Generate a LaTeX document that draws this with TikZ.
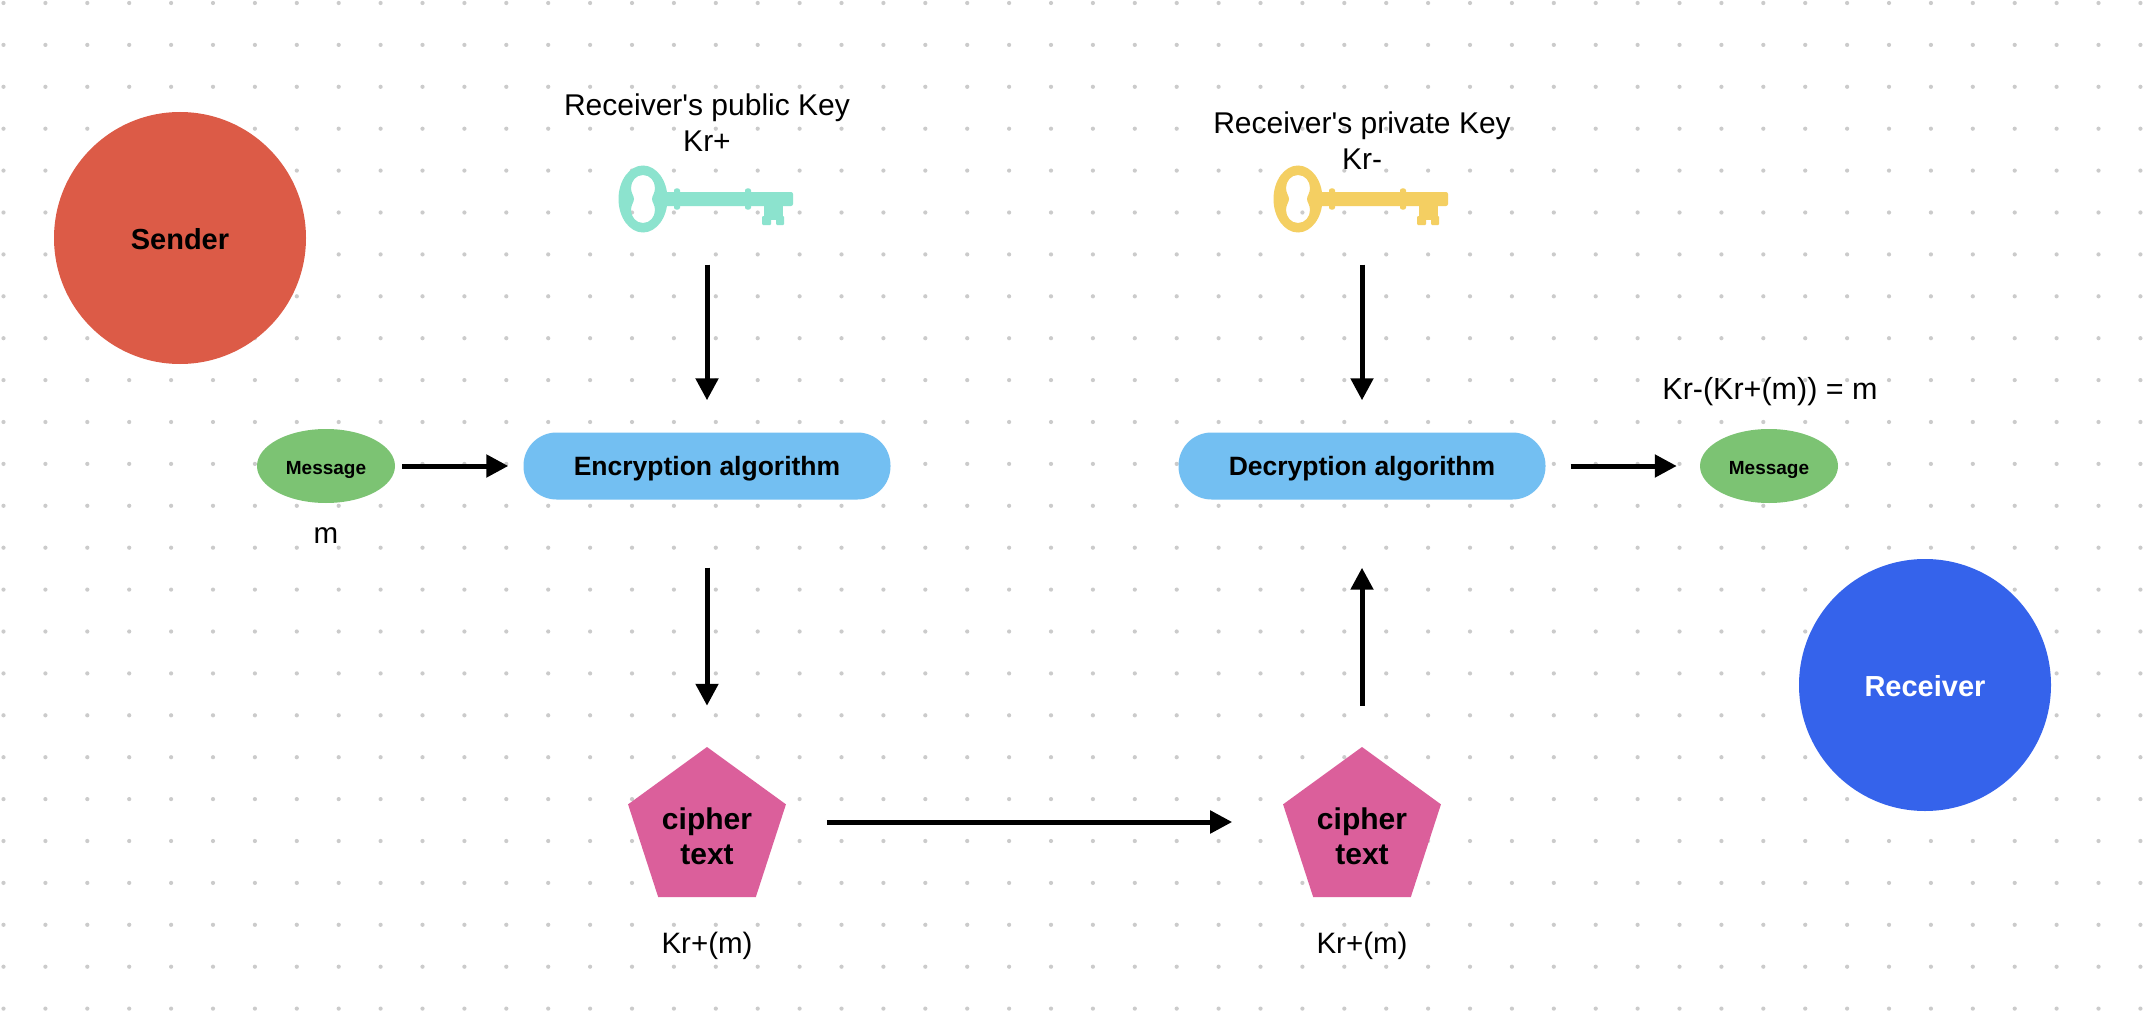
\documentclass[tikz,border=0pt]{standalone}
\usepackage{fontspec}
\setmainfont{Liberation Sans}
\usetikzlibrary{arrows.meta,shapes.geometric}
\definecolor{senderred}{HTML}{DC5B47}
\definecolor{receiverblue}{HTML}{3563EB}
\definecolor{algoblue}{HTML}{73BFF2}
\definecolor{msggreen}{HTML}{7CC373}
\definecolor{cipherpink}{HTML}{DB5F9B}
\definecolor{keyteal}{HTML}{8CE3CE}
\definecolor{keyyellow}{HTML}{F4CF62}
\definecolor{griddot}{HTML}{CBCBCB}
\tikzset{
  party/.style={circle,minimum size=252pt,inner sep=0pt,text height=22.5pt,text depth=0pt,font=\fontsize{29}{35}\selectfont\bfseries},
  algo/.style={rectangle,rounded corners=33pt,fill=algoblue,minimum width=367pt,minimum height=67pt,inner sep=0pt,text height=24pt,text depth=6pt,font=\fontsize{26.5}{33}\selectfont\bfseries},
  msg/.style={ellipse,fill=msggreen,minimum width=138pt,minimum height=74pt,inner sep=0pt,text height=17.5pt,text depth=0pt,font=\fontsize{19}{22}\selectfont\bfseries},
  cipher/.style={regular polygon,regular polygon sides=5,fill=cipherpink,minimum size=166pt,inner sep=0pt},
  ciphertxt/.style={align=center,font=\fontsize{30}{35}\selectfont\bfseries},
  lbl/.style={align=center,font=\fontsize{29.5}{36}\selectfont},
  keybox/.style={minimum width=175pt,minimum height=67pt,inner sep=0pt},
  flow/.style={-{Triangle[length=22pt,width=22pt]},line width=5pt,black},
  pics/keyicon/.style={code={
    \fill[#1,even odd rule] (0,0) ellipse [x radius=24.5pt,y radius=33.5pt]
      (0,-24) .. controls (7,-24) and (12,-18) .. (12,-11) .. controls (12,-6) and (9,-3) .. (9,0)
      .. controls (9,3) and (12,6) .. (12,11) .. controls (12,18) and (7,24) .. (0,24)
      .. controls (-7,24) and (-12,18) .. (-12,11) .. controls (-12,6) and (-9,3) .. (-9,0)
      .. controls (-9,-3) and (-12,-6) .. (-12,-11) .. controls (-12,-18) and (-7,-24) .. (0,-24) -- cycle;
    \fill[#1,rounded corners=2pt] (20,-7) rectangle (150,7);
    \fill[#1,rounded corners=2pt] (31,-10.5) rectangle (37,10.5);
    \fill[#1,rounded corners=2pt] (102,-10.5) rectangle (108,10.5);
    \fill[#1] (121,6) rectangle (140,21);
    \fill[#1,rounded corners=1pt] (119,17) rectangle (128,26);
    \fill[#1,rounded corners=1pt] (133,17) rectangle (141,26);
  }}
}
\begin{document}
\begin{tikzpicture}[x=1pt,y=-1pt]
  \useasboundingbox[fill=white] (0,0) rectangle (2148,1014);
  % dotted canvas
  \foreach \col in {0,...,51}
    \foreach \row in {0,...,24}
      \fill[griddot] ({3.5+41.9*\col},{3+41.9*\row}) circle (2.1pt);

  \node[party,fill=senderred] (sender) at (180,238) {Sender};
  \node[party,fill=receiverblue,text=white] (receiver) at (1925,685) {Receiver};

  \node[msg] (msga) at (326,466) {Message};
  \node[lbl] (msgalbl) at (326,536) {m};
  \node[algo] (enc) at (707,466) {Encryption algorithm};
  \node[algo] (dec) at (1362,466) {Decryption algorithm};
  \node[msg] (msgb) at (1769,466) {Message};
  \node[lbl,font=\fontsize{30.5}{36}\selectfont] (msgblbl) at (1770,392) {Kr-(Kr+(m)) = m};

  \node[lbl,font=\fontsize{30}{36}\selectfont] (publbl) at (707,122.5) {Receiver\textquotesingle s public Key\\Kr+};
  \node[lbl,font=\fontsize{30}{36}\selectfont] (privlbl) at (1362,140.5) {Receiver\textquotesingle s private Key\\Kr-};
  \node[keybox] (pubkey) at (707,200) {};
  \node[keybox] (privkey) at (1362,200) {};
  \pic at (643,199) {keyicon=keyteal};
  \pic at (1298,199) {keyicon=keyyellow};

  \node[cipher] (ciphera) at (707,830) {};
  \node[cipher] (cipherb) at (1362,830) {};
  \node[ciphertxt] (ciphertxta) at ([yshift=-6pt]ciphera.center) {cipher\\text};
  \node[ciphertxt] (ciphertxtb) at ([yshift=-6pt]cipherb.center) {cipher\\text};
  \node[lbl] (cipheralbl) at (707,946) {Kr+(m)};
  \node[lbl] (cipherblbl) at (1362,946) {Kr+(m)};

  \draw[flow,shorten <=31pt,shorten >=32pt] (pubkey.south) -- (enc.north);
  \draw[flow,shorten <=31pt,shorten >=32pt] (privkey.south) -- (dec.north);
  \draw[flow,shorten <=7pt,shorten >=15pt] (msga.east) -- (enc.west);
  \draw[flow,shorten <=25pt,shorten >=23pt] (dec.east) -- (msgb.west);
  \draw[flow,shorten <=68pt,shorten >=41pt] (enc.south) -- (ciphera.north);
  \draw[flow,shorten <=41pt,shorten >=68pt] (cipherb.north) -- (dec.south);
  \draw[flow,shorten <=49pt,shorten >=59pt] ([yshift=8pt]ciphera.east) -- ([yshift=8pt]cipherb.west);
\end{tikzpicture}
\end{document}
